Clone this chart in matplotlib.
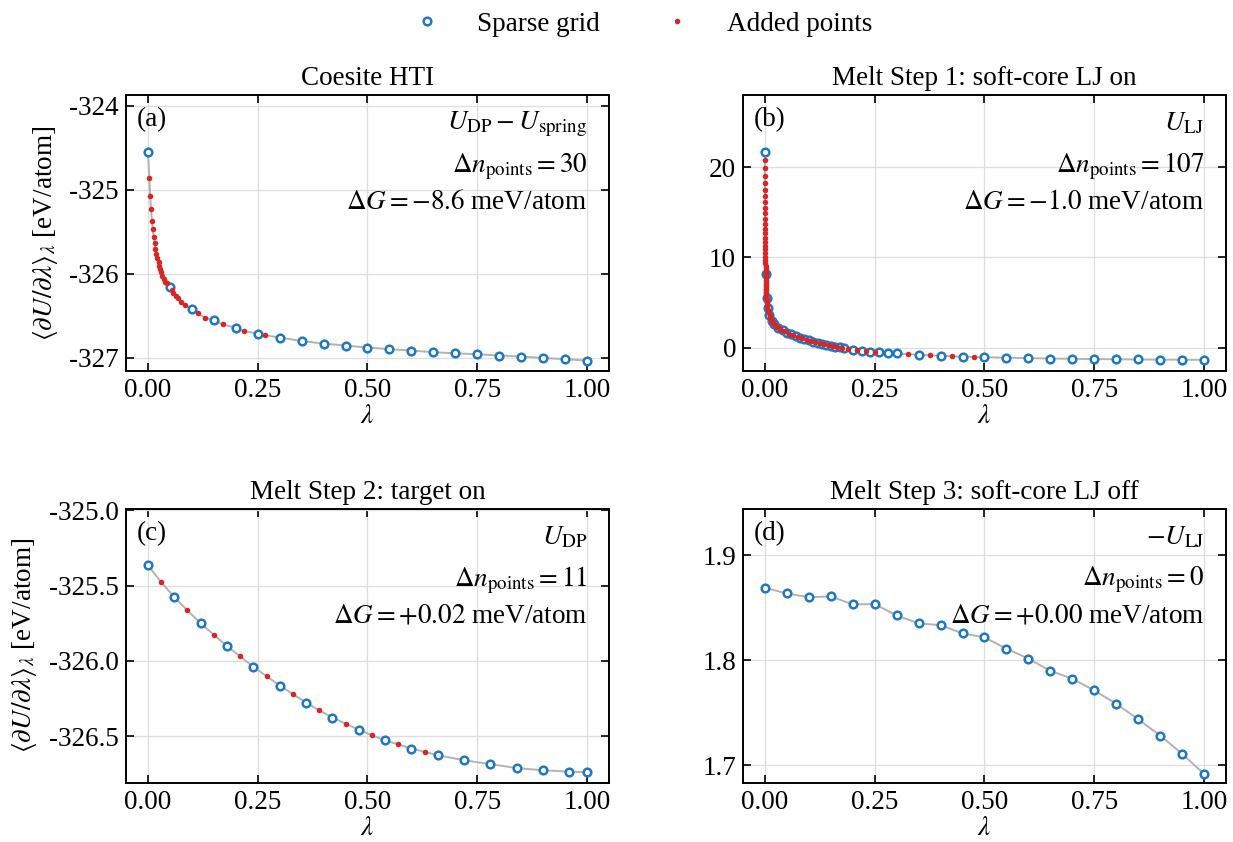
"""
plot.py — dU/dlambda integrands on sparse grid + adaptively added points
"""

import numpy as np
import matplotlib.pyplot as plt
from matplotlib.lines import Line2D

plt.rcParams["font.family"] = ["Liberation Serif", "DejaVu Serif"]
plt.rcParams["mathtext.fontset"] = "stix"
plt.rcParams["axes.unicode_minus"] = False

# ─────────────────────────────────────────────────────────
#  Datos
# ─────────────────────────────────────────────────────────
X_TICKS = [0.0, 0.25, 0.5, 0.75, 1.0]

# (a) Coesite HTI
a_sparse_lam = [0.0, 0.05, 0.1, 0.15, 0.2, 0.25, 0.3, 0.35, 0.4, 0.45, 0.5,
                0.55, 0.6, 0.65, 0.7, 0.75, 0.8, 0.85, 0.9, 0.95, 1.0]
a_sparse_val = [-324.548, -326.15, -326.42, -326.55, -326.64, -326.71, -326.757,
                -326.798, -326.829, -326.852, -326.876, -326.896, -326.912,
                -326.932, -326.944, -326.956, -326.971, -326.983, -327.000,
                -327.015, -327.031]
a_added_lam = [0.003, 0.005, 0.007, 0.009, 0.011, 0.013, 0.015, 0.017, 0.019,
               0.021, 0.024, 0.026, 0.028, 0.030, 0.033, 0.036, 0.039, 0.044,
               0.054, 0.058, 0.063, 0.069, 0.076, 0.085, 0.113, 0.129, 0.170,
               0.218, 0.267]
a_added_val = [-324.853, -325.07, -325.23, -325.37, -325.47, -325.56, -325.63,
               -325.70, -325.76, -325.81, -325.86, -325.90, -325.94, -325.98,
               -326.02, -326.06, -326.09, -326.11, -326.19, -326.23, -326.26,
               -326.29, -326.33, -326.37, -326.47, -326.52, -326.60, -326.68,
               -326.73]

# (b) Melt step 1
b_sparse_lam = [0.0, 0.0017, 0.0036, 0.006, 0.01, 0.015, 0.02, 0.03, 0.04, 0.05,
                0.06, 0.07, 0.08, 0.09, 0.1, 0.11, 0.12, 0.13, 0.14, 0.15, 0.16,
                0.17, 0.18, 0.2, 0.22, 0.24, 0.26, 0.28, 0.3, 0.35, 0.4, 0.45,
                0.5, 0.55, 0.6, 0.65, 0.7, 0.75, 0.8, 0.85, 0.9, 0.95, 1.0]
b_sparse_val = [21.73, 8.14, 5.48, 4.45, 3.62, 3.0, 2.64, 2.23, 1.93, 1.68,
                1.47, 1.28, 1.12, 0.96, 0.82, 0.68, 0.56, 0.44, 0.33, 0.23, 0.13,
                0.03, -0.07, -0.24, -0.36, -0.45, -0.52, -0.58, -0.63, -0.78,
                -0.89, -1.0, -1.06, -1.11, -1.16, -1.2, -1.23, -1.26, -1.28,
                -1.3, -1.32, -1.33, -1.35]
b_added_lam = [0.00002, 0.00005, 0.00008, 0.00012, 0.00016, 0.0002, 0.00025,
               0.0003, 0.00035, 0.0004, 0.00046, 0.00052, 0.00058, 0.00065,
               0.00072, 0.0008, 0.00088, 0.00096, 0.00105, 0.00114, 0.00123,
               0.00133, 0.00143, 0.00153, 0.00164, 0.00175, 0.00186, 0.00198,
               0.0021, 0.00222, 0.00235, 0.00248, 0.00261, 0.00275, 0.00289,
               0.00303, 0.00318, 0.00333, 0.00348, 0.00375, 0.0039, 0.0042,
               0.0045, 0.005, 0.0055,
               0.007, 0.008, 0.009, 0.011, 0.012, 0.013, 0.014, 0.016, 0.017,
               0.018, 0.019, 0.0225, 0.025, 0.0275, 0.0325, 0.035, 0.0375,
               0.045, 0.055, 0.065, 0.075, 0.085, 0.095, 0.105, 0.115, 0.125,
               0.135, 0.145, 0.155, 0.165, 0.175, 0.19, 0.21, 0.23, 0.25,
               0.325, 0.375, 0.425, 0.475]
b_added_val = [20.8, 19.9, 19.0, 18.2, 17.5, 16.8, 16.1, 15.5, 14.9, 14.3, 13.7,
               13.2, 12.7, 12.2, 11.75, 11.3, 10.9, 10.5, 10.1, 9.75, 9.4, 9.1,
               8.8, 8.5, 8.25, 8.0, 7.75, 7.5, 7.3, 7.1, 6.9, 6.7, 6.5, 6.35,
               6.2, 6.05, 5.9, 5.75, 5.6, 5.35, 5.2, 5.05, 4.9, 4.75, 4.6,
               4.2, 4.0, 3.8, 3.46, 3.33, 3.21, 3.1, 2.92, 2.84, 2.77, 2.7,
               2.52, 2.42, 2.32, 2.15, 2.07, 2.0, 1.8, 1.57, 1.37, 1.2, 1.04,
               0.89, 0.75, 0.62, 0.5, 0.39, 0.28, 0.18, 0.08, -0.02, -0.16,
               -0.30, -0.41, -0.49, -0.71, -0.84, -0.95, -1.03]

# (c) Melt step 2
c_sparse_lam = [0.0, 0.06, 0.12, 0.18, 0.24, 0.30, 0.36, 0.42, 0.48, 0.54,
                0.60, 0.66, 0.72, 0.78, 0.84, 0.90, 0.96, 1.0]
c_sparse_val = [-325.365, -325.577, -325.75, -325.902, -326.04, -326.164,
                -326.278, -326.377, -326.458, -326.529, -326.584, -326.628,
                -326.661, -326.687, -326.713, -326.728, -326.737, -326.741]
c_added_lam = [0.03, 0.09, 0.15, 0.21, 0.27, 0.33, 0.39, 0.45, 0.51, 0.57, 0.63]
c_added_val = [-325.476, -325.665, -325.827, -325.970, -326.102, -326.221,
               -326.329, -326.417, -326.495, -326.555, -326.605]

# (d) Melt step 3
d_sparse_lam = [0.0, 0.05, 0.1, 0.15, 0.2, 0.25, 0.3, 0.35, 0.4, 0.45, 0.5,
                0.55, 0.6, 0.65, 0.7, 0.75, 0.8, 0.85, 0.9, 0.95, 1.0]
d_sparse_val = [1.869, 1.8636, 1.860, 1.8608, 1.8532, 1.8535, 1.8427, 1.8351,
                1.8335, 1.8256, 1.8218, 1.8111, 1.8016, 1.790, 1.7825, 1.7713,
                1.7587, 1.7439, 1.7284, 1.7111, 1.6919]
d_added_lam = []
d_added_val = []

titles = ["Coesite HTI", "Melt Step 1: soft-core LJ on",
          "Melt Step 2: target on", "Melt Step 3: soft-core LJ off"]
labels = ["(a)", "(b)", "(c)", "(d)"]
energy_terms = [r"$U_{\rm DP} - U_{\rm spring}$", r"$U_{\rm LJ}$",
                r"$U_{\rm DP}$", r"$-U_{\rm LJ}$"]
n_added = [30, 107, 11, 0]
delta_g = [r"$\Delta G = -8.6$ meV/atom", r"$\Delta G = -1.0$ meV/atom",
           r"$\Delta G = +0.02$ meV/atom", r"$\Delta G = +0.00$ meV/atom"]
y_ticks = [[-324, -325, -326, -327], [0, 10, 20],
           [-325.0, -325.5, -326.0, -326.5], [1.7, 1.8, 1.9]]
y_limits = [(-327.155, -323.87), (-2.58, 28.0), (-326.81, -324.99), (1.6836, 1.944)]

panels = [
    (a_sparse_lam, a_sparse_val, a_added_lam, a_added_val),
    (b_sparse_lam, b_sparse_val, b_added_lam, b_added_val),
    (c_sparse_lam, c_sparse_val, c_added_lam, c_added_val),
    (d_sparse_lam, d_sparse_val, d_added_lam, d_added_val),
]

BLUE = "#1f78c1"
RED = "#d62728"
FS = 19.5

# ─────────────────────────────────────────────────────────
#  Figura
# ─────────────────────────────────────────────────────────
fig = plt.figure(figsize=(12.33, 8.42), dpi=100)
positions = [
    [0.1022, 0.5594, 0.3917, 0.3278],
    [0.6026, 0.5594, 0.3917, 0.3278],
    [0.1022, 0.0705, 0.3917, 0.3250],
    [0.6026, 0.0705, 0.3917, 0.3250],
]

for i, (s_lam, s_val, a_lam, a_val) in enumerate(panels):
    ax = fig.add_axes(positions[i])

    # línea que une todos los puntos ordenados en lambda
    lam_all = np.array(list(s_lam) + list(a_lam))
    val_all = np.array(list(s_val) + list(a_val))
    order = np.argsort(lam_all)
    ax.plot(lam_all[order], val_all[order], color="#b3b3b3", lw=1.4, zorder=1)

    ax.plot(s_lam, s_val, "o", ms=5.5, mfc="white", mec=BLUE, mew=1.8,
            zorder=3, ls="none")
    if len(a_lam):
        ax.plot(a_lam, a_val, "o", ms=4.0, color=RED, mew=0, zorder=4, ls="none")

    ax.set_xlim(-0.05, 1.05)
    ax.set_ylim(*y_limits[i])
    ax.set_xticks(X_TICKS)
    ax.set_xticklabels([f"{t:.2f}" for t in X_TICKS])
    ax.set_yticks(y_ticks[i])
    if i >= 2:
        ax.set_yticklabels([f"{t:.1f}" for t in y_ticks[i]])
    else:
        ax.set_yticklabels([f"{t:g}" for t in y_ticks[i]])

    ax.tick_params(direction="in", top=True, right=True, length=6, width=1.2,
                   labelsize=FS, pad=5)
    for sp in ax.spines.values():
        sp.set_linewidth(1.4)
    ax.grid(color="#dedede", lw=0.9)
    ax.set_axisbelow(True)

    ax.set_title(titles[i], fontsize=FS, pad=7)
    ax.set_xlabel(r"$\lambda$", fontsize=FS, labelpad=1)
    if i % 2 == 0:
        ax.set_ylabel(r"$\langle \partial U/\partial \lambda \rangle_\lambda$ [eV/atom]",
                      fontsize=FS, labelpad=7)

    ax.text(0.022, 0.955, labels[i], transform=ax.transAxes, ha="left", va="top",
            fontsize=FS)
    ax.text(0.955, 0.895, energy_terms[i], transform=ax.transAxes, ha="right",
            va="center", fontsize=FS)
    ax.text(0.955, 0.74, rf"$\Delta n_{{\rm points}} = {n_added[i]}$",
            transform=ax.transAxes, ha="right", va="center", fontsize=FS)
    ax.text(0.955, 0.61, delta_g[i], transform=ax.transAxes, ha="right",
            va="center", fontsize=FS)

# ─────────────────────────────────────────────────────────
#  Leyenda común
# ─────────────────────────────────────────────────────────
handles = [
    Line2D([], [], marker="o", ls="none", ms=5.5, mfc="white", mec=BLUE, mew=1.8),
    Line2D([], [], marker="o", ls="none", ms=4.0, color=RED, mew=0),
]
fig.legend(handles, ["Sparse grid", "Added points"], loc="upper center",
           bbox_to_anchor=(0.516, 1.015), ncol=2, frameon=False, fontsize=FS,
           handlelength=2.0, handletextpad=0.86, columnspacing=1.84)

fig.savefig("out.png", dpi=100)
